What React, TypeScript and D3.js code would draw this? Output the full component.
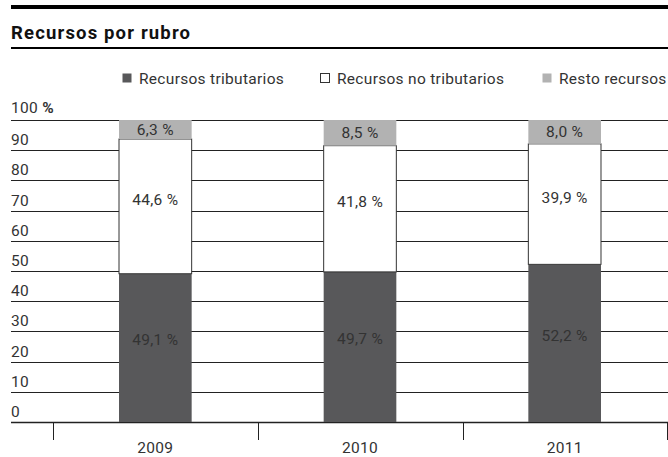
import React from "react";
import * as d3 from "d3";

const years = ["2009", "2010", "2011"];
const tributarios = [49.1, 49.7, 52.2];
const noTributarios = [44.6, 41.8, 39.9];
const resto = [6.3, 8.5, 8.0];
const yTicks = [0, 10, 20, 30, 40, 50, 60, 70, 80, 90, 100];
const seriesNames = ["Recursos tributarios", "Recursos no tributarios", "Resto recursos"];

const W = 668, H = 457;
const FONT = "Roboto, 'DejaVu Sans', sans-serif";
const colors = ["#58585a", "#ffffff", "#b2b2b2"];
const FS = 15.5;
const LS = 0.3;

export default function App() {
  const x = d3.scaleBand<string>().domain(years).range([53, 667]).paddingInner(0.645).paddingOuter(0.3225);
  const y = d3.scaleLinear().domain([0, 100]).range([422, 120]);
  const fmt = (v: number) => d3.format(".1f")(v).replace(".", ",") + " %";

  const rows = years.map((yr, i) => ({ yr, vals: [tributarios[i], noTributarios[i], resto[i]] }));
  const stack = d3.stack<any>().keys(["0", "1", "2"]).value((d: any, k: string) => d.vals[+k]);
  const stacked = stack(rows);
  const labelShift = [-8, -7, 0];

  const legendX = [122, 320, 542];

  return (
    <svg width={W} height={H} style={{ position: "absolute", left: 0, top: 0, fontFamily: FONT }}>
      <rect x={0} y={0} width={W} height={H} fill="#fff" />
      <rect x={11} y={5} width={W - 11} height={4} fill="#000" />
      <text x={11} y={39} fontSize={18.5} fontWeight="bold" fill="#111" textLength={179} lengthAdjust="spacing">Recursos por rubro</text>
      <rect x={11} y={47} width={W - 11} height={2} fill="#000" />

      {seriesNames.map((n, i) => (
        <g key={n}>
          <rect x={legendX[i] + 0.5} y={73.5} width={9} height={9} fill={colors[i]} stroke={i === 1 ? "#333" : "none"} strokeWidth={1} />
          <text x={legendX[i] + 17} y={83.5} fontSize={FS} letterSpacing={LS} fill="#333">{n}</text>
        </g>
      ))}

      {yTicks.map((t) => (
        <g key={t}>
          <line x1={11} x2={W} y1={Math.round(y(t)) + 0.5} y2={Math.round(y(t)) + 0.5} stroke="#222" strokeWidth={t === 0 ? 1.3 : 1} />
          <text x={11} y={y(t) - (t === 100 ? 7 : 5)} fontSize={FS} letterSpacing={LS} fill="#333">
            {t}
            {t === 100 ? <tspan fontWeight="bold"> %</tspan> : null}
          </text>
        </g>
      ))}

      {stacked.map((s, si) => (
        <g key={si}>
          {s.map((d: any, i: number) => (
            <rect key={i} x={x(years[i])!} width={x.bandwidth()} y={y(Math.min(d[1], 100))} height={y(d[0]) - y(Math.min(d[1], 100))}
              fill={colors[si]} stroke={si === 1 ? "#333" : "none"} strokeWidth={1} />
          ))}
        </g>
      ))}
      {stacked.map((s, si) => (
        <g key={"l" + si}>
          {s.map((d: any, i: number) => (
            <text key={i} x={x(years[i])! + x.bandwidth() / 2} y={(y(d[0]) + y(Math.min(d[1], 100))) / 2 + labelShift[si]} dy="0.35em"
              textAnchor="middle" fontSize={FS} letterSpacing={LS} fill="#333">{fmt(rows[i].vals[si])}</text>
          ))}
        </g>
      ))}

      {[53, 258, 463, 667].map((tx) => (
        <line key={tx} x1={tx + 0.5} x2={tx + 0.5} y1={422} y2={440} stroke="#222" strokeWidth={1} />
      ))}
      {years.map((yr) => (
        <text key={yr} x={x(yr)! + x.bandwidth() / 2} y={453} textAnchor="middle" fontSize={FS} letterSpacing={LS} fill="#333">{yr}</text>
      ))}
    </svg>
  );
}
